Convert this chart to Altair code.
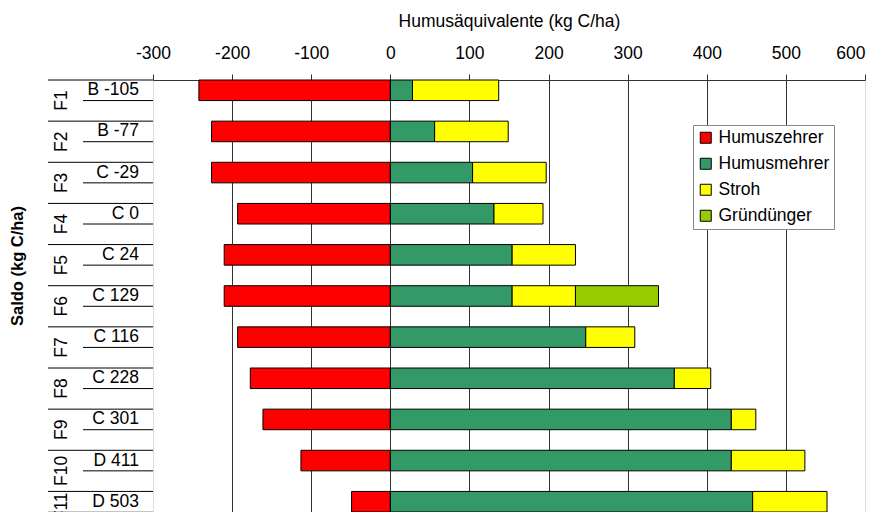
import altair as alt
import pandas as pd

# ---- data ----
groups = ["F1", "F2", "F3", "F4", "F5", "F6", "F7", "F8", "F9", "F10", "F11"]
saldo_labels = ["B -105", "B -77", "C -29", "C 0", "C 24", "C 129",
                "C 116", "C 228", "C 301", "D 411", "D 503"]
humuszehrer = [-242, -226, -226, -193, -210, -210, -193, -177, -161, -113, -49]
humusmehrer = [28, 56, 104, 131, 154, 154, 247, 359, 431, 431, 458]
stroh = [109, 93, 93, 62, 80, 80, 62, 46, 31, 93, 94]
gruenduenger = [0, 0, 0, 0, 0, 105, 0, 0, 0, 0, 0]

categories = ["Humuszehrer", "Humusmehrer", "Stroh", "Gründünger"]
colors = ["#FF0000", "#339966", "#FFFF00", "#99CC00"]
x_ticks = [-300, -200, -100, 0, 100, 200, 300, 400, 500, 600]
x_title = "Humusäquivalente (kg C/ha)"
y_title = "Saldo (kg C/ha)"

FONT = "Liberation Sans"
FS = 17.5

# row bands: a labelled row per group followed by an empty spacer row
rows = []
for i, lab in enumerate(saldo_labels):
    rows.append(lab)
    if i < len(saldo_labels) - 1:
        rows.append(f"gap{i}")

series = [humuszehrer, humusmehrer, stroh, gruenduenger]
recs = []
for ci, (cat, vals) in enumerate(zip(categories, series)):
    for lab, v in zip(saldo_labels, vals):
        if v != 0:
            recs.append({"row": lab, "cat": cat, "value": v, "ord": ci})
bars_df = pd.DataFrame(recs)

grp_df = pd.DataFrame({"row": saldo_labels, "grp": groups})
rows_df = pd.DataFrame({"row": rows})

yscale = alt.Scale(domain=rows, paddingInner=0, paddingOuter=0)


def yenc(bp=0.5):
    return alt.Y("row:N", scale=yscale, sort=rows, bandPosition=bp, axis=None)


bars = alt.Chart(bars_df).mark_bar(stroke="black", strokeWidth=1).encode(
    x=alt.X("value:Q",
            scale=alt.Scale(domain=[-300, 600], nice=False, zero=False),
            stack="zero",
            axis=alt.Axis(orient="top", values=x_ticks,
                          labelExpr="'' + datum.value",
                          labelAlign=alt.condition("datum.value == 600",
                                                   alt.value("right"), alt.value("center")),
                          title=x_title,
                          titleFont=FONT, titleFontSize=FS, titleFontWeight="normal",
                          titleColor="black", titleY=-54, titleBaseline="alphabetic",
                          labelFont=FONT, labelFontSize=FS, labelColor="black",
                          labelBaseline="alphabetic", labelPadding=16,
                          tickSize=6, tickColor="#333", domainColor="#333",
                          grid=True, gridColor="#333",
                          gridOpacity=alt.condition("datum.value == -300 || datum.value == 600",
                                                    alt.value(0), alt.value(1)),
                          labelFlush=False, labelOverlap=False)),
    y=alt.Y("row:N", scale=yscale, sort=rows, axis=None),
    color=alt.Color("cat:N", scale=alt.Scale(domain=categories, range=colors),
                    legend=alt.Legend(title=None, orient="none", legendX=540, legendY=45,
                                      symbolType="square", symbolSize=121,
                                      symbolStrokeColor="black", symbolStrokeWidth=1,
                                      symbolOpacity=1,
                                      labelFont=FONT, labelFontSize=FS, labelColor="black",
                                      labelOffset=4, rowPadding=7, padding=4,
                                      strokeColor="#888", fillColor="white")),
    order=alt.Order("ord:Q"),
)

# category-axis lines: every row boundary (inner level) ...
row_ticks = alt.Chart(rows_df).mark_rule(color="black", strokeWidth=1).encode(
    y=yenc(0), x=alt.value(-70), x2=alt.value(0),
)
# ... and group boundaries reaching further out (outer level)
sep_top = alt.Chart(grp_df).mark_rule(color="black", strokeWidth=1).encode(
    y=yenc(0), x=alt.value(-105), x2=alt.value(-70),
)
sep_bottom = alt.Chart(grp_df.tail(1)).mark_rule(color="#888", strokeWidth=1).encode(
    y=yenc(1), x=alt.value(-105), x2=alt.value(0),
)

# inner category labels
inner_lab = alt.Chart(grp_df).mark_text(font=FONT, fontSize=FS, color="black",
                                        align="right", baseline="middle").encode(
    y=yenc(0.5), x=alt.value(-14), text="row:N",
)

# outer category labels (F1..F10 centred on their two-row group, F11 on its single row)
flab = alt.Chart(grp_df.head(10)).mark_text(angle=270, font=FONT, fontSize=FS,
                                            color="black", align="center",
                                            baseline="middle").encode(
    y=yenc(1), x=alt.value(-91), text="grp:N",
)
flab_last = alt.Chart(grp_df.tail(1)).mark_text(angle=270, font=FONT, fontSize=FS,
                                                color="black", align="center",
                                                baseline="middle").encode(
    y=yenc(0.75), x=alt.value(-91), text="grp:N",
)

# y-axis title
ytitle = alt.Chart(pd.DataFrame({"t": [y_title]})).mark_text(
    angle=270, font=FONT, fontSize=16.5, fontWeight="bold", color="black",
    align="center", baseline="middle").encode(
    x=alt.value(-135), y=alt.value(186), text="t:N",
)

chart = alt.layer(bars, row_ticks, sep_top, sep_bottom, inner_lab, flab, flab_last,
                  ytitle).properties(
    width=712, height=432,
    autosize=alt.AutoSizeParams(type="none"),
    padding={"left": 145, "top": 72, "right": 9, "bottom": 0},
).configure_view(stroke="#888", strokeWidth=1).configure(background="white")

chart.save("out.html", embed_options={"renderer": "svg", "actions": False})
